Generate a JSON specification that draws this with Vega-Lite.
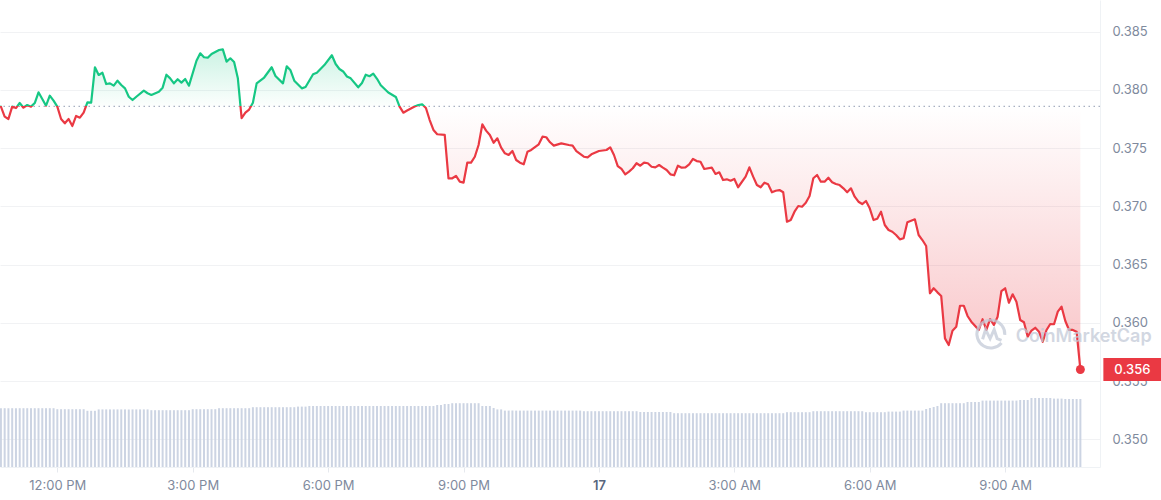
{
"$schema": "https://vega.github.io/schema/vega-lite/v6.json",
"width": 1100,
"height": 467,
"autosize": {"type": "none"},
"padding": {"left": 0, "top": 0, "right": 61, "bottom": 33},
"background": "#ffffff",
"config": {
  "view": {"stroke": null},
  "font": "Inter",
  "scale": {"continuousPadding": 0},
  "axis": {"labelFont": "Inter", "labelFontSize": 13, "labelColor": "#808a9d", "titleFont": "Inter"},
  "text": {"font": "Inter"}
},
"datasets": {
"price": [
{"t":"2024-05-16T10:45","p":0.37855},{"t":"2024-05-16T10:50","p":0.37769},{"t":"2024-05-16T10:55","p":0.37749},
{"t":"2024-05-16T11:00","p":0.37855},{"t":"2024-05-16T11:05","p":0.37843},{"t":"2024-05-16T11:10","p":0.37886},{"t":"2024-05-16T11:15","p":0.37846},{"t":"2024-05-16T11:20","p":0.37869},{"t":"2024-05-16T11:25","p":0.37855},{"t":"2024-05-16T11:30","p":0.37886},{"t":"2024-05-16T11:35","p":0.37978},{"t":"2024-05-16T11:40","p":0.37921},{"t":"2024-05-16T11:45","p":0.37863},{"t":"2024-05-16T11:50","p":0.37949},{"t":"2024-05-16T11:55","p":0.37906},
{"t":"2024-05-16T12:00","p":0.37855},{"t":"2024-05-16T12:05","p":0.37749},{"t":"2024-05-16T12:10","p":0.37712},{"t":"2024-05-16T12:15","p":0.37749},{"t":"2024-05-16T12:20","p":0.37689},{"t":"2024-05-16T12:25","p":0.37775},{"t":"2024-05-16T12:30","p":0.3776},{"t":"2024-05-16T12:35","p":0.37803},{"t":"2024-05-16T12:40","p":0.37892},{"t":"2024-05-16T12:45","p":0.37889},{"t":"2024-05-16T12:50","p":0.38193},{"t":"2024-05-16T12:55","p":0.38127},
{"t":"2024-05-16T13:00","p":0.38146},{"t":"2024-05-16T13:05","p":0.38049},{"t":"2024-05-16T13:10","p":0.38055},{"t":"2024-05-16T13:15","p":0.38035},{"t":"2024-05-16T13:20","p":0.38078},{"t":"2024-05-16T13:25","p":0.38041},{"t":"2024-05-16T13:30","p":0.38012},{"t":"2024-05-16T13:35","p":0.3794},{"t":"2024-05-16T13:40","p":0.37912},{"t":"2024-05-16T13:45","p":0.3794},{"t":"2024-05-16T13:55","p":0.37992},
{"t":"2024-05-16T14:00","p":0.3797},{"t":"2024-05-16T14:05","p":0.37955},{"t":"2024-05-16T14:15","p":0.37983},{"t":"2024-05-16T14:20","p":0.38018},{"t":"2024-05-16T14:25","p":0.38129},{"t":"2024-05-16T14:30","p":0.38098},{"t":"2024-05-16T14:35","p":0.38055},{"t":"2024-05-16T14:40","p":0.3809},{"t":"2024-05-16T14:45","p":0.38061},{"t":"2024-05-16T14:50","p":0.38092},{"t":"2024-05-16T14:55","p":0.38035},
{"t":"2024-05-16T15:05","p":0.38249},{"t":"2024-05-16T15:10","p":0.38313},{"t":"2024-05-16T15:15","p":0.38279},{"t":"2024-05-16T15:20","p":0.38275},{"t":"2024-05-16T15:25","p":0.38307},{"t":"2024-05-16T15:35","p":0.38341},{"t":"2024-05-16T15:40","p":0.38347},{"t":"2024-05-16T15:45","p":0.38241},{"t":"2024-05-16T15:50","p":0.3827},{"t":"2024-05-16T15:55","p":0.38238},
{"t":"2024-05-16T16:00","p":0.38098},{"t":"2024-05-16T16:05","p":0.37757},{"t":"2024-05-16T16:10","p":0.37803},{"t":"2024-05-16T16:15","p":0.3783},{"t":"2024-05-16T16:20","p":0.37889},{"t":"2024-05-16T16:25","p":0.38055},{"t":"2024-05-16T16:35","p":0.38105},{"t":"2024-05-16T16:45","p":0.38193},{"t":"2024-05-16T16:50","p":0.38118},
{"t":"2024-05-16T17:00","p":0.38055},{"t":"2024-05-16T17:05","p":0.38201},{"t":"2024-05-16T17:10","p":0.38167},{"t":"2024-05-16T17:15","p":0.38078},{"t":"2024-05-16T17:25","p":0.38012},{"t":"2024-05-16T17:30","p":0.38024},{"t":"2024-05-16T17:40","p":0.38133},{"t":"2024-05-16T17:45","p":0.38146},{"t":"2024-05-16T17:55","p":0.38212},
{"t":"2024-05-16T18:05","p":0.38296},{"t":"2024-05-16T18:10","p":0.38221},{"t":"2024-05-16T18:15","p":0.38178},{"t":"2024-05-16T18:20","p":0.38157},{"t":"2024-05-16T18:25","p":0.38114},{"t":"2024-05-16T18:30","p":0.38098},{"t":"2024-05-16T18:40","p":0.38021},{"t":"2024-05-16T18:45","p":0.38058},{"t":"2024-05-16T18:50","p":0.38129},{"t":"2024-05-16T18:55","p":0.38116},
{"t":"2024-05-16T19:00","p":0.38138},{"t":"2024-05-16T19:05","p":0.38094},{"t":"2024-05-16T19:10","p":0.38038},{"t":"2024-05-16T19:20","p":0.37976},{"t":"2024-05-16T19:30","p":0.37938},{"t":"2024-05-16T19:35","p":0.37855},{"t":"2024-05-16T19:40","p":0.37803},{"t":"2024-05-16T19:45","p":0.37822},{"t":"2024-05-16T19:55","p":0.37856},
{"t":"2024-05-16T20:00","p":0.37869},{"t":"2024-05-16T20:05","p":0.37875},{"t":"2024-05-16T20:10","p":0.37843},{"t":"2024-05-16T20:15","p":0.3774},{"t":"2024-05-16T20:20","p":0.37655},{"t":"2024-05-16T20:25","p":0.37618},{"t":"2024-05-16T20:35","p":0.37612},{"t":"2024-05-16T20:40","p":0.3724},{"t":"2024-05-16T20:45","p":0.3724},{"t":"2024-05-16T20:50","p":0.3726},{"t":"2024-05-16T20:55","p":0.37211},
{"t":"2024-05-16T21:00","p":0.37202},{"t":"2024-05-16T21:05","p":0.37374},{"t":"2024-05-16T21:10","p":0.37374},{"t":"2024-05-16T21:15","p":0.37425},{"t":"2024-05-16T21:20","p":0.37526},{"t":"2024-05-16T21:25","p":0.37703},{"t":"2024-05-16T21:30","p":0.37649},{"t":"2024-05-16T21:35","p":0.37612},{"t":"2024-05-16T21:40","p":0.37545},{"t":"2024-05-16T21:45","p":0.37583},{"t":"2024-05-16T21:50","p":0.37503},{"t":"2024-05-16T21:55","p":0.37454},
{"t":"2024-05-16T22:00","p":0.3744},{"t":"2024-05-16T22:05","p":0.37474},{"t":"2024-05-16T22:10","p":0.37397},{"t":"2024-05-16T22:15","p":0.37374},{"t":"2024-05-16T22:20","p":0.3736},{"t":"2024-05-16T22:25","p":0.37468},{"t":"2024-05-16T22:30","p":0.37483},{"t":"2024-05-16T22:40","p":0.37532},{"t":"2024-05-16T22:45","p":0.37597},{"t":"2024-05-16T22:50","p":0.37592},{"t":"2024-05-16T22:55","p":0.37549},
{"t":"2024-05-16T23:00","p":0.3752},{"t":"2024-05-16T23:10","p":0.3754},{"t":"2024-05-16T23:20","p":0.37526},{"t":"2024-05-16T23:25","p":0.3752},{"t":"2024-05-16T23:30","p":0.37474},{"t":"2024-05-16T23:40","p":0.37425},{"t":"2024-05-16T23:45","p":0.3742},{"t":"2024-05-16T23:50","p":0.37446},
{"t":"2024-05-17T00:00","p":0.37474},{"t":"2024-05-17T00:10","p":0.37483},{"t":"2024-05-17T00:15","p":0.37506},{"t":"2024-05-17T00:20","p":0.3744},{"t":"2024-05-17T00:25","p":0.37345},{"t":"2024-05-17T00:30","p":0.3732},{"t":"2024-05-17T00:35","p":0.37274},{"t":"2024-05-17T00:40","p":0.37297},{"t":"2024-05-17T00:45","p":0.37326},{"t":"2024-05-17T00:50","p":0.37369},{"t":"2024-05-17T00:55","p":0.37348},
{"t":"2024-05-17T01:00","p":0.37374},{"t":"2024-05-17T01:05","p":0.37369},{"t":"2024-05-17T01:10","p":0.37339},{"t":"2024-05-17T01:15","p":0.37334},{"t":"2024-05-17T01:20","p":0.37354},{"t":"2024-05-17T01:25","p":0.37331},{"t":"2024-05-17T01:30","p":0.37311},{"t":"2024-05-17T01:35","p":0.37274},{"t":"2024-05-17T01:40","p":0.37266},{"t":"2024-05-17T01:45","p":0.37348},{"t":"2024-05-17T01:50","p":0.37331},{"t":"2024-05-17T01:55","p":0.37334},
{"t":"2024-05-17T02:00","p":0.3736},{"t":"2024-05-17T02:05","p":0.37406},{"t":"2024-05-17T02:10","p":0.37388},{"t":"2024-05-17T02:15","p":0.37382},{"t":"2024-05-17T02:20","p":0.3732},{"t":"2024-05-17T02:30","p":0.37331},{"t":"2024-05-17T02:35","p":0.37277},{"t":"2024-05-17T02:40","p":0.37291},{"t":"2024-05-17T02:45","p":0.37225},{"t":"2024-05-17T02:50","p":0.37231},{"t":"2024-05-17T02:55","p":0.37219},
{"t":"2024-05-17T03:00","p":0.37234},{"t":"2024-05-17T03:05","p":0.37163},{"t":"2024-05-17T03:15","p":0.37254},{"t":"2024-05-17T03:20","p":0.37334},{"t":"2024-05-17T03:25","p":0.37254},{"t":"2024-05-17T03:30","p":0.37182},{"t":"2024-05-17T03:35","p":0.37163},{"t":"2024-05-17T03:40","p":0.37202},{"t":"2024-05-17T03:45","p":0.37188},{"t":"2024-05-17T03:50","p":0.3712},{"t":"2024-05-17T03:55","p":0.37133},
{"t":"2024-05-17T04:00","p":0.37139},{"t":"2024-05-17T04:05","p":0.3712},{"t":"2024-05-17T04:10","p":0.36867},{"t":"2024-05-17T04:15","p":0.36882},{"t":"2024-05-17T04:20","p":0.36953},{"t":"2024-05-17T04:25","p":0.37002},{"t":"2024-05-17T04:30","p":0.36996},{"t":"2024-05-17T04:35","p":0.3703},{"t":"2024-05-17T04:40","p":0.37088},{"t":"2024-05-17T04:45","p":0.3724},{"t":"2024-05-17T04:50","p":0.37268},{"t":"2024-05-17T04:55","p":0.37211},
{"t":"2024-05-17T05:00","p":0.37211},{"t":"2024-05-17T05:05","p":0.37245},{"t":"2024-05-17T05:10","p":0.37206},{"t":"2024-05-17T05:15","p":0.37191},{"t":"2024-05-17T05:20","p":0.37182},{"t":"2024-05-17T05:25","p":0.37154},{"t":"2024-05-17T05:30","p":0.3712},{"t":"2024-05-17T05:35","p":0.37154},{"t":"2024-05-17T05:40","p":0.37082},{"t":"2024-05-17T05:45","p":0.37039},{"t":"2024-05-17T05:50","p":0.37019},{"t":"2024-05-17T05:55","p":0.37045},
{"t":"2024-05-17T06:00","p":0.36982},{"t":"2024-05-17T06:05","p":0.36882},{"t":"2024-05-17T06:10","p":0.36893},{"t":"2024-05-17T06:15","p":0.36953},{"t":"2024-05-17T06:20","p":0.36839},{"t":"2024-05-17T06:25","p":0.36796},{"t":"2024-05-17T06:30","p":0.36781},{"t":"2024-05-17T06:35","p":0.36753},{"t":"2024-05-17T06:40","p":0.36716},{"t":"2024-05-17T06:45","p":0.36725},{"t":"2024-05-17T06:50","p":0.36862},
{"t":"2024-05-17T07:00","p":0.36888},{"t":"2024-05-17T07:05","p":0.36753},{"t":"2024-05-17T07:10","p":0.3671},{"t":"2024-05-17T07:15","p":0.36659},{"t":"2024-05-17T07:20","p":0.36253},{"t":"2024-05-17T07:25","p":0.36296},{"t":"2024-05-17T07:30","p":0.36261},{"t":"2024-05-17T07:35","p":0.3623},{"t":"2024-05-17T07:40","p":0.35866},{"t":"2024-05-17T07:45","p":0.35809},{"t":"2024-05-17T07:50","p":0.35932},{"t":"2024-05-17T07:55","p":0.35966},
{"t":"2024-05-17T08:00","p":0.36146},{"t":"2024-05-17T08:05","p":0.36146},{"t":"2024-05-17T08:10","p":0.36058},{"t":"2024-05-17T08:15","p":0.36009},{"t":"2024-05-17T08:25","p":0.35938},{"t":"2024-05-17T08:30","p":0.3603},{"t":"2024-05-17T08:35","p":0.35938},{"t":"2024-05-17T08:40","p":0.36032},{"t":"2024-05-17T08:45","p":0.35981},{"t":"2024-05-17T08:50","p":0.36052},{"t":"2024-05-17T08:55","p":0.36272},
{"t":"2024-05-17T09:00","p":0.36296},{"t":"2024-05-17T09:05","p":0.36172},{"t":"2024-05-17T09:10","p":0.36244},{"t":"2024-05-17T09:15","p":0.36181},{"t":"2024-05-17T09:20","p":0.36024},{"t":"2024-05-17T09:25","p":0.36004},{"t":"2024-05-17T09:30","p":0.3588},{"t":"2024-05-17T09:35","p":0.35932},{"t":"2024-05-17T09:40","p":0.35957},{"t":"2024-05-17T09:45","p":0.35923},{"t":"2024-05-17T09:50","p":0.35837},{"t":"2024-05-17T09:55","p":0.35938},
{"t":"2024-05-17T10:00","p":0.35989},{"t":"2024-05-17T10:05","p":0.35987},{"t":"2024-05-17T10:10","p":0.36095},{"t":"2024-05-17T10:15","p":0.36138},{"t":"2024-05-17T10:20","p":0.36015},{"t":"2024-05-17T10:25","p":0.35938},{"t":"2024-05-17T10:30","p":0.35938},{"t":"2024-05-17T10:35","p":0.35923},{"t":"2024-05-17T10:40","p":0.35599}
],
"vol": [
{"t":"2024-05-16T10:45","v":294},{"t":"2024-05-16T10:50","v":294},{"t":"2024-05-16T10:55","v":294},
{"t":"2024-05-16T11:00","v":294},{"t":"2024-05-16T11:05","v":294},{"t":"2024-05-16T11:10","v":294},{"t":"2024-05-16T11:15","v":294},{"t":"2024-05-16T11:20","v":294},{"t":"2024-05-16T11:25","v":294},{"t":"2024-05-16T11:30","v":294},{"t":"2024-05-16T11:35","v":294},{"t":"2024-05-16T11:40","v":294},{"t":"2024-05-16T11:45","v":294},{"t":"2024-05-16T11:50","v":294},{"t":"2024-05-16T11:55","v":294},
{"t":"2024-05-16T12:00","v":289},{"t":"2024-05-16T12:05","v":289},{"t":"2024-05-16T12:10","v":289},{"t":"2024-05-16T12:15","v":289},{"t":"2024-05-16T12:20","v":289},{"t":"2024-05-16T12:25","v":289},{"t":"2024-05-16T12:30","v":289},{"t":"2024-05-16T12:35","v":289},{"t":"2024-05-16T12:40","v":281},{"t":"2024-05-16T12:45","v":281},{"t":"2024-05-16T12:50","v":281},{"t":"2024-05-16T12:55","v":288},
{"t":"2024-05-16T13:00","v":288},{"t":"2024-05-16T13:05","v":288},{"t":"2024-05-16T13:10","v":288},{"t":"2024-05-16T13:15","v":288},{"t":"2024-05-16T13:20","v":288},{"t":"2024-05-16T13:25","v":288},{"t":"2024-05-16T13:30","v":288},{"t":"2024-05-16T13:35","v":288},{"t":"2024-05-16T13:40","v":288},{"t":"2024-05-16T13:45","v":288},{"t":"2024-05-16T13:50","v":288},{"t":"2024-05-16T13:55","v":288},
{"t":"2024-05-16T14:00","v":288},{"t":"2024-05-16T14:05","v":284},{"t":"2024-05-16T14:10","v":284},{"t":"2024-05-16T14:15","v":284},{"t":"2024-05-16T14:20","v":284},{"t":"2024-05-16T14:25","v":284},{"t":"2024-05-16T14:30","v":284},{"t":"2024-05-16T14:35","v":284},{"t":"2024-05-16T14:40","v":284},{"t":"2024-05-16T14:45","v":284},{"t":"2024-05-16T14:50","v":284},{"t":"2024-05-16T14:55","v":284},
{"t":"2024-05-16T15:00","v":289},{"t":"2024-05-16T15:05","v":289},{"t":"2024-05-16T15:10","v":289},{"t":"2024-05-16T15:15","v":289},{"t":"2024-05-16T15:20","v":289},{"t":"2024-05-16T15:25","v":289},{"t":"2024-05-16T15:30","v":289},{"t":"2024-05-16T15:35","v":294},{"t":"2024-05-16T15:40","v":294},{"t":"2024-05-16T15:45","v":294},{"t":"2024-05-16T15:50","v":294},{"t":"2024-05-16T15:55","v":294},
{"t":"2024-05-16T16:00","v":294},{"t":"2024-05-16T16:05","v":294},{"t":"2024-05-16T16:10","v":294},{"t":"2024-05-16T16:15","v":294},{"t":"2024-05-16T16:20","v":299},{"t":"2024-05-16T16:25","v":299},{"t":"2024-05-16T16:30","v":299},{"t":"2024-05-16T16:35","v":299},{"t":"2024-05-16T16:40","v":299},{"t":"2024-05-16T16:45","v":299},{"t":"2024-05-16T16:50","v":299},{"t":"2024-05-16T16:55","v":299},
{"t":"2024-05-16T17:00","v":299},{"t":"2024-05-16T17:05","v":299},{"t":"2024-05-16T17:10","v":299},{"t":"2024-05-16T17:15","v":299},{"t":"2024-05-16T17:20","v":302},{"t":"2024-05-16T17:25","v":302},{"t":"2024-05-16T17:30","v":302},{"t":"2024-05-16T17:35","v":305},{"t":"2024-05-16T17:40","v":305},{"t":"2024-05-16T17:45","v":305},{"t":"2024-05-16T17:50","v":305},{"t":"2024-05-16T17:55","v":305},
{"t":"2024-05-16T18:00","v":305},{"t":"2024-05-16T18:05","v":305},{"t":"2024-05-16T18:10","v":305},{"t":"2024-05-16T18:15","v":305},{"t":"2024-05-16T18:20","v":305},{"t":"2024-05-16T18:25","v":305},{"t":"2024-05-16T18:30","v":305},{"t":"2024-05-16T18:35","v":305},{"t":"2024-05-16T18:40","v":305},{"t":"2024-05-16T18:45","v":305},{"t":"2024-05-16T18:50","v":305},{"t":"2024-05-16T18:55","v":305},
{"t":"2024-05-16T19:00","v":305},{"t":"2024-05-16T19:05","v":305},{"t":"2024-05-16T19:10","v":305},{"t":"2024-05-16T19:15","v":305},{"t":"2024-05-16T19:20","v":305},{"t":"2024-05-16T19:25","v":305},{"t":"2024-05-16T19:30","v":305},{"t":"2024-05-16T19:35","v":305},{"t":"2024-05-16T19:40","v":305},{"t":"2024-05-16T19:45","v":305},{"t":"2024-05-16T19:50","v":305},{"t":"2024-05-16T19:55","v":305},
{"t":"2024-05-16T20:00","v":305},{"t":"2024-05-16T20:05","v":305},{"t":"2024-05-16T20:10","v":305},{"t":"2024-05-16T20:15","v":305},{"t":"2024-05-16T20:20","v":305},{"t":"2024-05-16T20:25","v":310},{"t":"2024-05-16T20:30","v":310},{"t":"2024-05-16T20:35","v":315},{"t":"2024-05-16T20:40","v":315},{"t":"2024-05-16T20:45","v":319},{"t":"2024-05-16T20:50","v":319},{"t":"2024-05-16T20:55","v":319},
{"t":"2024-05-16T21:00","v":319},{"t":"2024-05-16T21:05","v":319},{"t":"2024-05-16T21:10","v":319},{"t":"2024-05-16T21:15","v":319},{"t":"2024-05-16T21:20","v":319},{"t":"2024-05-16T21:25","v":305},{"t":"2024-05-16T21:30","v":305},{"t":"2024-05-16T21:35","v":305},{"t":"2024-05-16T21:40","v":295},{"t":"2024-05-16T21:45","v":288},{"t":"2024-05-16T21:50","v":288},{"t":"2024-05-16T21:55","v":282},
{"t":"2024-05-16T22:00","v":282},{"t":"2024-05-16T22:05","v":282},{"t":"2024-05-16T22:10","v":282},{"t":"2024-05-16T22:15","v":282},{"t":"2024-05-16T22:20","v":282},{"t":"2024-05-16T22:25","v":282},{"t":"2024-05-16T22:30","v":282},{"t":"2024-05-16T22:35","v":282},{"t":"2024-05-16T22:40","v":282},{"t":"2024-05-16T22:45","v":282},{"t":"2024-05-16T22:50","v":282},{"t":"2024-05-16T22:55","v":282},
{"t":"2024-05-16T23:00","v":282},{"t":"2024-05-16T23:05","v":282},{"t":"2024-05-16T23:10","v":282},{"t":"2024-05-16T23:15","v":282},{"t":"2024-05-16T23:20","v":282},{"t":"2024-05-16T23:25","v":282},{"t":"2024-05-16T23:30","v":282},{"t":"2024-05-16T23:35","v":282},{"t":"2024-05-16T23:40","v":279},{"t":"2024-05-16T23:45","v":279},{"t":"2024-05-16T23:50","v":279},{"t":"2024-05-16T23:55","v":279},
{"t":"2024-05-17T00:00","v":279},{"t":"2024-05-17T00:05","v":279},{"t":"2024-05-17T00:10","v":279},{"t":"2024-05-17T00:15","v":279},{"t":"2024-05-17T00:20","v":279},{"t":"2024-05-17T00:25","v":279},{"t":"2024-05-17T00:30","v":279},{"t":"2024-05-17T00:35","v":279},{"t":"2024-05-17T00:40","v":279},{"t":"2024-05-17T00:45","v":279},{"t":"2024-05-17T00:50","v":279},{"t":"2024-05-17T00:55","v":275},
{"t":"2024-05-17T01:00","v":275},{"t":"2024-05-17T01:05","v":275},{"t":"2024-05-17T01:10","v":275},{"t":"2024-05-17T01:15","v":275},{"t":"2024-05-17T01:20","v":275},{"t":"2024-05-17T01:25","v":275},{"t":"2024-05-17T01:30","v":275},{"t":"2024-05-17T01:35","v":275},{"t":"2024-05-17T01:40","v":269},{"t":"2024-05-17T01:45","v":269},{"t":"2024-05-17T01:50","v":269},{"t":"2024-05-17T01:55","v":269},
{"t":"2024-05-17T02:00","v":269},{"t":"2024-05-17T02:05","v":269},{"t":"2024-05-17T02:10","v":269},{"t":"2024-05-17T02:15","v":269},{"t":"2024-05-17T02:20","v":269},{"t":"2024-05-17T02:25","v":269},{"t":"2024-05-17T02:30","v":269},{"t":"2024-05-17T02:35","v":269},{"t":"2024-05-17T02:40","v":269},{"t":"2024-05-17T02:45","v":269},{"t":"2024-05-17T02:50","v":269},{"t":"2024-05-17T02:55","v":269},
{"t":"2024-05-17T03:00","v":269},{"t":"2024-05-17T03:05","v":269},{"t":"2024-05-17T03:10","v":269},{"t":"2024-05-17T03:15","v":269},{"t":"2024-05-17T03:20","v":269},{"t":"2024-05-17T03:25","v":269},{"t":"2024-05-17T03:30","v":269},{"t":"2024-05-17T03:35","v":269},{"t":"2024-05-17T03:40","v":269},{"t":"2024-05-17T03:45","v":269},{"t":"2024-05-17T03:50","v":269},{"t":"2024-05-17T03:55","v":269},
{"t":"2024-05-17T04:00","v":269},{"t":"2024-05-17T04:05","v":269},{"t":"2024-05-17T04:10","v":274},{"t":"2024-05-17T04:15","v":274},{"t":"2024-05-17T04:20","v":274},{"t":"2024-05-17T04:25","v":274},{"t":"2024-05-17T04:30","v":274},{"t":"2024-05-17T04:35","v":274},{"t":"2024-05-17T04:40","v":274},{"t":"2024-05-17T04:45","v":279},{"t":"2024-05-17T04:50","v":279},{"t":"2024-05-17T04:55","v":279},
{"t":"2024-05-17T05:00","v":279},{"t":"2024-05-17T05:05","v":279},{"t":"2024-05-17T05:10","v":279},{"t":"2024-05-17T05:15","v":279},{"t":"2024-05-17T05:20","v":279},{"t":"2024-05-17T05:25","v":279},{"t":"2024-05-17T05:30","v":279},{"t":"2024-05-17T05:35","v":279},{"t":"2024-05-17T05:40","v":279},{"t":"2024-05-17T05:45","v":279},{"t":"2024-05-17T05:50","v":279},{"t":"2024-05-17T05:55","v":274},
{"t":"2024-05-17T06:00","v":274},{"t":"2024-05-17T06:05","v":274},{"t":"2024-05-17T06:10","v":274},{"t":"2024-05-17T06:15","v":274},{"t":"2024-05-17T06:20","v":274},{"t":"2024-05-17T06:25","v":277},{"t":"2024-05-17T06:30","v":277},{"t":"2024-05-17T06:35","v":277},{"t":"2024-05-17T06:40","v":277},{"t":"2024-05-17T06:45","v":282},{"t":"2024-05-17T06:50","v":282},{"t":"2024-05-17T06:55","v":282},
{"t":"2024-05-17T07:00","v":282},{"t":"2024-05-17T07:05","v":282},{"t":"2024-05-17T07:10","v":282},{"t":"2024-05-17T07:15","v":290},{"t":"2024-05-17T07:20","v":295},{"t":"2024-05-17T07:25","v":300},{"t":"2024-05-17T07:30","v":305},{"t":"2024-05-17T07:35","v":319},{"t":"2024-05-17T07:40","v":319},{"t":"2024-05-17T07:45","v":319},{"t":"2024-05-17T07:50","v":319},{"t":"2024-05-17T07:55","v":319},
{"t":"2024-05-17T08:00","v":319},{"t":"2024-05-17T08:05","v":319},{"t":"2024-05-17T08:10","v":325},{"t":"2024-05-17T08:15","v":325},{"t":"2024-05-17T08:20","v":325},{"t":"2024-05-17T08:25","v":325},{"t":"2024-05-17T08:30","v":332},{"t":"2024-05-17T08:35","v":332},{"t":"2024-05-17T08:40","v":332},{"t":"2024-05-17T08:45","v":332},{"t":"2024-05-17T08:50","v":332},{"t":"2024-05-17T08:55","v":332},
{"t":"2024-05-17T09:00","v":332},{"t":"2024-05-17T09:05","v":332},{"t":"2024-05-17T09:10","v":332},{"t":"2024-05-17T09:15","v":332},{"t":"2024-05-17T09:20","v":335},{"t":"2024-05-17T09:25","v":335},{"t":"2024-05-17T09:30","v":335},{"t":"2024-05-17T09:35","v":345},{"t":"2024-05-17T09:40","v":345},{"t":"2024-05-17T09:45","v":345},{"t":"2024-05-17T09:50","v":345},{"t":"2024-05-17T09:55","v":345},
{"t":"2024-05-17T10:00","v":345},{"t":"2024-05-17T10:05","v":342},{"t":"2024-05-17T10:10","v":342},{"t":"2024-05-17T10:15","v":342},{"t":"2024-05-17T10:20","v":340},{"t":"2024-05-17T10:25","v":340},{"t":"2024-05-17T10:30","v":340},{"t":"2024-05-17T10:35","v":340},{"t":"2024-05-17T10:40","v":340}
]
},
"layer": [
  {
    "data": {"name": "vol"},
    "mark": {"type": "bar", "size": 2, "color": "#ccd4e3"},
    "encoding": {
      "x": {
        "field": "t", "type": "temporal", "title": null,
        "scale": {"padding": 0, "domain": [{"year": 2024, "month": 5, "date": 16, "hours": 10, "minutes": 43, "seconds": 48}, {"year": 2024, "month": 5, "date": 17, "hours": 11, "minutes": 6, "seconds": 6}]},
        "axis": {
          "values": [
            {"year": 2024, "month": 5, "date": 16, "hours": 12},
            {"year": 2024, "month": 5, "date": 16, "hours": 15},
            {"year": 2024, "month": 5, "date": 16, "hours": 18},
            {"year": 2024, "month": 5, "date": 16, "hours": 21},
            {"year": 2024, "month": 5, "date": 17, "hours": 0},
            {"year": 2024, "month": 5, "date": 17, "hours": 3},
            {"year": 2024, "month": 5, "date": 17, "hours": 6},
            {"year": 2024, "month": 5, "date": 17, "hours": 9}
          ],
          "labelExpr": "hours(datum.value) == 0 ? timeFormat(datum.value, '%-d') : timeFormat(datum.value, '%-I:%M %p')",
          "labelFontWeight": {"condition": {"test": "hours(datum.value) == 0", "value": 600}, "value": 400},
          "labelColor": {"condition": {"test": "hours(datum.value) == 0", "value": "#58667e"}, "value": "#808a9d"},
          "tickSize": 5, "tickColor": "#e6e9ee", "domain": true, "domainColor": "#eff2f5",
          "grid": false, "labelPadding": 7, "labelOverlap": false, "labelFlush": false
        }
      },
      "y": {"field": "v", "type": "quantitative", "title": null, "scale": {"domain": [0, 2335]}, "axis": null}
    }
  },
  {
    "layer": [
      {
        "data": {"name": "price"},
        "mark": {
          "type": "area",
          "fill": {"gradient": "linear", "x1": 0, "y1": 0, "x2": 0, "y2": 1,
            "stops": [
              {"offset": 0, "color": "rgba(22,199,132,0.22)"},
              {"offset": 0.178, "color": "rgba(22,199,132,0.01)"},
              {"offset": 0.178, "color": "rgba(234,57,67,0.0)"},
              {"offset": 1, "color": "rgba(234,57,67,0.3)"}
            ]}
        },
        "encoding": {
          "x": {"field": "t", "type": "temporal", "title": null},
          "y": {
            "field": "p", "type": "quantitative", "title": null,
            "scale": {"domain": [0.347618, 0.387704], "nice": false, "zero": false},
            "axis": {
              "orient": "right",
              "values": [0.35, 0.355, 0.36, 0.365, 0.37, 0.375, 0.38, 0.385],
              "format": ".3f", "grid": true, "gridColor": "#f1f2f4", "ticks": false,
              "domain": true, "domainColor": "#eff2f5", "labelPadding": 12, "labelAlign": "left"
            }
          },
          "y2": {"datum": 0.37858}
        }
      },
      {
        "data": {"values": [{}]},
        "mark": {"type": "rule", "stroke": "#a7b0c1", "strokeDash": [1.5, 3.5], "strokeWidth": 1.3},
        "encoding": {"y": {"datum": 0.37858, "type": "quantitative"}}
      },
      {
        "data": {"name": "price"},
        "mark": {
          "type": "line", "strokeWidth": 2.2, "strokeJoin": "round", "strokeCap": "round",
          "stroke": {"gradient": "linear", "x1": 0, "y1": 0, "x2": 0, "y2": 1,
            "stops": [
              {"offset": 0, "color": "#16c784"},
              {"offset": 0.178, "color": "#16c784"},
              {"offset": 0.178, "color": "#ea3943"},
              {"offset": 1, "color": "#ea3943"}
            ]}
        },
        "encoding": {
          "x": {"field": "t", "type": "temporal", "title": null},
          "y": {"field": "p", "type": "quantitative", "title": null}
        }
      },
      {
        "data": {"name": "price"},
        "transform": [{"filter": "time(datum.t) >= time(datetime(2024, 4, 17, 10, 40))"}],
        "mark": {"type": "point", "filled": true, "size": 80, "color": "#ea3943", "opacity": 1},
        "encoding": {
          "x": {"field": "t", "type": "temporal", "title": null},
          "y": {"field": "p", "type": "quantitative", "title": null}
        }
      },
      {
        "data": {"name": "price"},
        "transform": [{"filter": "time(datum.t) >= time(datetime(2024, 4, 17, 10, 40))"}],
        "mark": {"type": "point", "shape": "M0.46,-0.23H1.62V0.23H0.46Z", "filled": true, "size": 10000, "color": "#ea3943", "opacity": 1, "strokeWidth": 0},
        "encoding": {
          "x": {"field": "t", "type": "temporal", "title": null},
          "y": {"field": "p", "type": "quantitative", "title": null}
        }
      },
      {
        "data": {"name": "price"},
        "transform": [{"filter": "time(datum.t) >= time(datetime(2024, 4, 17, 10, 40))"}],
        "mark": {"type": "text", "align": "center", "baseline": "middle", "dx": 52, "dy": 1, "color": "#ffffff", "fontSize": 13, "font": "Inter", "fontWeight": 500},
        "encoding": {
          "x": {"field": "t", "type": "temporal", "title": null},
          "y": {"field": "p", "type": "quantitative", "title": null},
          "text": {"field": "p", "type": "quantitative", "format": ".3f"}
        }
      },
      {
        "data": {"values": [{}]},
        "mark": {"type": "point", "shape": "M0.71,0.6A0.93,0.93 0 1 1 0.93,0.05M-0.55,0.35L-0.35,-0.3L-0.05,0.3L0.22,-0.3L0.42,0.3L0.71,0.42", "filled": false, "size": 900, "stroke": "#c3cad8", "strokeWidth": 3, "opacity": 0.75},
        "encoding": {
          "x": {"datum": {"year": 2024, "month": 5, "date": 17, "hours": 8, "minutes": 41}, "type": "temporal"},
          "y": {"datum": 0.35903, "type": "quantitative"}
        }
      },
      {
        "data": {"values": [{}]},
        "mark": {"type": "text", "text": "CoinMarketCap", "align": "left", "baseline": "middle", "fontSize": 18, "fontWeight": 600, "font": "Inter", "color": "#c3cad8", "opacity": 0.75},
        "encoding": {
          "x": {"datum": {"year": 2024, "month": 5, "date": 17, "hours": 9, "minutes": 14}, "type": "temporal"},
          "y": {"datum": 0.35878, "type": "quantitative"}
        }
      }
    ]
  }
],
"resolve": {"scale": {"y": "independent"}}
}
